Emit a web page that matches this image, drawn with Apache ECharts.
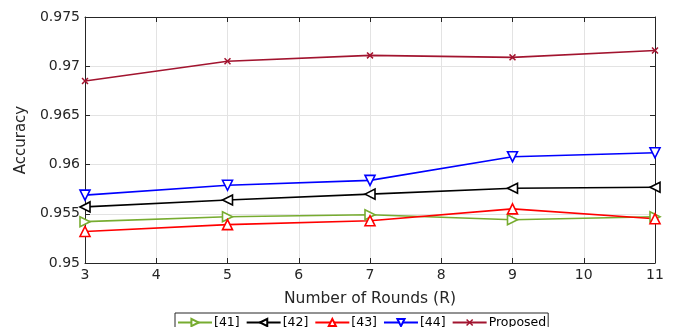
<!DOCTYPE html>
<html>
<head>
<meta charset="utf-8">
<script src="https://cdn.jsdelivr.net/npm/echarts@6/dist/echarts.min.js"></script>
<style>
  html, body { margin: 0; padding: 0; background: #fff; }
  #chart { width: 682px; height: 327px; }
</style>
</head>
<body>
<div id="chart"></div>
<script>
// Accuracy versus number of rounds for the compared schemes
const rounds = [3, 5, 7, 9, 11];
const ref41 = [0.9542, 0.9547, 0.9549, 0.9544, 0.9547];
const ref42 = [0.9557, 0.9564, 0.9570, 0.9576, 0.9577];
const ref43 = [0.9532, 0.9539, 0.9543, 0.9555, 0.9545];
const ref44 = [0.9569, 0.9579, 0.9584, 0.9608, 0.9612];
const proposed = [0.9685, 0.9705, 0.9711, 0.9709, 0.9716];
const seriesNames = ['[41]', '[42]', '[43]', '[44]', 'Proposed'];

const FONT = '"DejaVu Sans", Verdana, sans-serif';
const TXT = '#262626';
const AX = '#262626';
const crossPath = 'path://M0,1.5L1.5,0L5,3.5L8.5,0L10,1.5L6.5,5L10,8.5L8.5,10L5,6.5L1.5,10L0,8.5L3.5,5Z';

function pairs(vals) { return rounds.map((r, i) => [r, vals[i]]); }

function lineSeries(name, vals, color, symbol, rotate, size) {
  const hollow = symbol !== crossPath;
  return {
    name: name,
    type: 'line',
    data: pairs(vals),
    symbol: symbol,
    symbolSize: size,
    symbolRotate: rotate,
    color: color,
    lineStyle: { color: color, width: 1.6 },
    itemStyle: hollow
      ? { color: '#fff', borderColor: color, borderWidth: 1.6 }
      : { color: color, borderWidth: 0 },
    emphasis: { disabled: true },
    animation: false,
    z: 3
  };
}

const chart = echarts.init(document.getElementById('chart'), null, { renderer: 'canvas' });

const axisCommon = {
  axisLine: { show: true, onZero: false, lineStyle: { color: AX, width: 1 } },
  axisTick: { show: true, inside: true, length: 5, lineStyle: { color: AX } },
};

chart.setOption({
  backgroundColor: '#fff',
  animation: false,
  grid: { left: 85, right: 27, top: 17, bottom: 64 },
  legend: {
    data: seriesNames,
    bottom: -4,
    left: 175,
    itemWidth: 34,
    itemHeight: 9,
    itemGap: 6,
    padding: [3, 2, 2, 2],
    borderColor: '#262626',
    borderWidth: 1,
    textStyle: { fontFamily: FONT, fontSize: 12.5, color: '#000', padding: [0, 0, 0, -3] }
  },
  xAxis: [
    Object.assign({
      type: 'value', min: 3, max: 11, interval: 1,
      name: 'Number of Rounds (R)', nameLocation: 'middle', nameGap: 28,
      nameTextStyle: { fontFamily: FONT, fontSize: 15.5, color: TXT },
      axisLabel: { fontFamily: FONT, fontSize: 14, color: TXT, margin: 5 },
      splitLine: { show: true, lineStyle: { color: '#e3e3e3', width: 1 } }
    }, axisCommon),
    Object.assign({
      type: 'value', min: 3, max: 11, interval: 1, position: 'top',
      axisLabel: { show: false }, splitLine: { show: false }
    }, axisCommon)
  ],
  yAxis: [
    Object.assign({
      type: 'value', min: 0.95, max: 0.975, interval: 0.005,
      name: 'Accuracy', nameLocation: 'middle', nameGap: 54,
      nameTextStyle: { fontFamily: FONT, fontSize: 15, color: TXT },
      axisLabel: {
        fontFamily: FONT, fontSize: 14, color: TXT, margin: 5,
        formatter: v => String(parseFloat(v.toFixed(3)))
      },
      splitLine: { show: true, lineStyle: { color: '#e3e3e3', width: 1 } }
    }, axisCommon),
    Object.assign({
      type: 'value', min: 0.95, max: 0.975, interval: 0.005, position: 'right',
      axisLabel: { show: false }, splitLine: { show: false }
    }, axisCommon)
  ],
  series: [
    lineSeries('[41]', ref41, '#77AC30', 'triangle', -90, 10),
    lineSeries('[42]', ref42, '#000000', 'triangle', 90, 10),
    lineSeries('[43]', ref43, '#FF0000', 'triangle', 0, 10),
    lineSeries('[44]', ref44, '#0000FF', 'triangle', 180, 10),
    lineSeries('Proposed', proposed, '#A2142F', crossPath, 0, 7)
  ]
});
</script>
</body>
</html>
